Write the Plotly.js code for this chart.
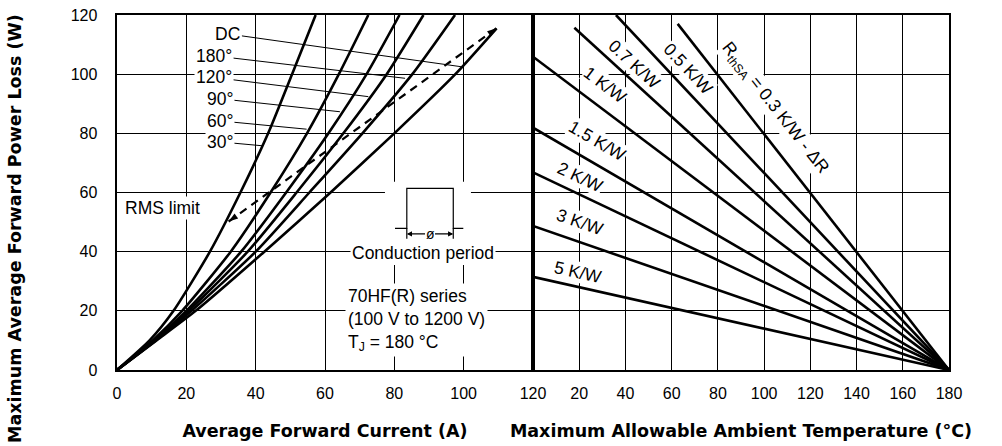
<!DOCTYPE html>
<html>
<head>
<meta charset="utf-8">
<script src="https://cdn.plot.ly/plotly-3.0.1.min.js"></script>
<style>html,body{margin:0;padding:0;background:#fff}#chart{width:1002px;height:446px}</style>
</head>
<body>
<div id="chart"></div>
<script>
// ---------- Left panel: power loss (W) vs average forward current (A) ----------
const powerLevels = [0, 10, 20, 40, 60, 80, 100, 120];
const current30  = [0, 9.4, 16.3, 26.8, 35.6, 43.6, 50.5, 57.3];
const current60  = [0, 10.3, 18.8, 32.8, 44.3, 54.8, 64.0, 72.5];
const current90  = [0, 10.7, 20.0, 35.8, 48.8, 61.0, 72.0, 81.5];
const current120 = [0, 11.0, 20.7, 37.7, 51.8, 65.3, 77.8, 88.4];
const current180 = [0, 11.2, 21.5, 40.0, 55.5, 70.8, 85.2, 97.5];
const powerDC    = [0, 10, 20, 40, 60, 80, 100, 115.5];
const currentDC  = [0, 11.4, 22.7, 42.5, 61.6, 80.0, 97.6, 109.5];
const rmsCurrent = [32.2, 109.5];
const rmsPower   = [50.2, 115.5];
const angleLabels = ['30°', '60°', '90°', '120°', '180°', 'DC'];

// ---------- Right panel: power loss (W) vs ambient temperature (°C) ----------
const rthLabels = ['R<sub>thSA</sub> = 0.3 K/W - ΔR', '0.5 K/W', '0.7 K/W', '1 K/W', '1.5 K/W', '2 K/W', '3 K/W', '5 K/W'];
const rthStartTemp  = [62.6, 35.9, 17.9, 0, 0, 0, 0, 0];
const rthStartPower = [117, 120, 115.7, 105.9, 81.9, 66.8, 48.7, 31.5];
const rthEndTemp = 180;
const rthEndPower = 0;

// ---------- Ticks ----------
const currentTicks = [0, 20, 40, 60, 80, 100, 120];
const tempTicks = [20, 40, 60, 80, 100, 120, 140, 160, 180];
const powerTicks = [0, 20, 40, 60, 80, 100, 120];

const BLACK = '#000';
const curveStyle = {color: BLACK, width: 2.6, shape: 'spline', smoothing: 0.6};

const leftSeries = [current30, current60, current90, current120, current180];
const traces = [];
leftSeries.forEach((cur, i) => {
  traces.push({x: cur, y: powerLevels, xaxis: 'x', yaxis: 'y', mode: 'lines',
    name: angleLabels[i], line: curveStyle, hoverinfo: 'skip'});
});
traces.push({x: currentDC, y: powerDC, xaxis: 'x', yaxis: 'y', mode: 'lines',
  name: angleLabels[5], line: curveStyle, hoverinfo: 'skip'});
// RMS limit: dashed line with arrowheads at both ends
traces.push({x: rmsCurrent, y: rmsPower, xaxis: 'x', yaxis: 'y', mode: 'lines+markers',
  name: 'RMS limit', line: {color: BLACK, width: 2.2, dash: '8px,6px'},
  marker: {symbol: 'arrow', size: 10, color: BLACK, angleref: 'up', angle: [234.2, 54.2],
    line: {width: 0}},
  hoverinfo: 'skip'});

rthLabels.forEach((lab, i) => {
  traces.push({x: [rthStartTemp[i], rthEndTemp], y: [rthStartPower[i], rthEndPower],
    xaxis: 'x2', yaxis: 'y2', mode: 'lines', name: lab,
    line: {color: BLACK, width: 2.6}, hoverinfo: 'skip'});
});

const labelFont = {family: 'Liberation Sans, Arial, sans-serif', size: 17.5, color: BLACK};
const titleFont = {family: 'DejaVu Sans, sans-serif', size: 17.5, color: BLACK};
const tickFont = {family: 'Liberation Sans, Arial, sans-serif', size: 16, color: BLACK};

function leader(text, hx, hy, tx, ty) {
  return {xref: 'x', yref: 'y', x: hx, y: hy, axref: 'x', ayref: 'y', ax: tx, ay: ty,
    text: text, showarrow: true, arrowhead: 0, arrowwidth: 1, arrowcolor: BLACK,
    standoff: 0, startstandoff: 0, bgcolor: '#fff', borderpad: 1, font: labelFont};
}
function rotLabel(text, x, y, ang) {
  return {xref: 'x2', yref: 'y2', x: x, y: y, text: text, showarrow: false,
    textangle: ang, bgcolor: '#fff', borderpad: 0, font: labelFont};
}
function dimArrow(hx, hy, tx, ty) {
  return {xref: 'x', yref: 'y', x: hx, y: hy, axref: 'x', ayref: 'y', ax: tx, ay: ty,
    text: 'ø', showarrow: true, arrowhead: 2, arrowsize: 0.8, arrowwidth: 1.3,
    arrowcolor: BLACK, standoff: 0, startstandoff: 0, bgcolor: '#fff', borderpad: 0,
    font: {family: 'Liberation Sans, Arial, sans-serif', size: 14, color: BLACK}};
}

const annotations = [
  leader(angleLabels[5], 99.4, 102.5, 32.0, 113.6),
  leader(angleLabels[4], 83.1, 98.6, 28.0, 106.2),
  leader(angleLabels[3], 72.5, 92.4, 28.0, 98.9),
  leader(angleLabels[2], 64.3, 87.3, 29.7, 91.7),
  leader(angleLabels[1], 54.7, 81.4, 29.7, 84.2),
  leader(angleLabels[0], 41.9, 75.8, 29.7, 77.1),
  {xref: 'x', yref: 'y', x: 1.7, y: 54.8, xanchor: 'left', text: 'RMS limit',
    showarrow: false, bgcolor: '#fff', borderpad: 1, font: labelFont},
  {xref: 'x', yref: 'y', x: 88.4, y: 39.7, text: 'Conduction period',
    showarrow: false, bgcolor: '#fff', borderpad: 1, font: labelFont},
  {xref: 'x', yref: 'y', x: 65.8, y: 16.9, xanchor: 'left', align: 'left',
    text: '70HF(R) series<br>(100 V to 1200 V)<br>T<sub>J</sub> = 180 °C',
    showarrow: false, bgcolor: '#fff', borderpad: 2, font: labelFont},
  dimArrow(83.6, 46.0, 90.3, 46.0),
  dimArrow(97.0, 46.0, 90.3, 46.0),
  rotLabel(rthLabels[0], 104.7, 88.4, 51.9),
  rotLabel(rthLabels[1], 67.3, 101.8, 46.8),
  rotLabel(rthLabels[2], 43.7, 103.4, 42.4),
  rotLabel(rthLabels[3], 31.2, 96.3, 37.0),
  rotLabel(rthLabels[4], 27.9, 77.4, 30.2),
  rotLabel(rthLabels[5], 20.3, 65.1, 25.4),
  rotLabel(rthLabels[6], 20.3, 50.1, 19.1),
  rotLabel(rthLabels[7], 19.3, 33.2, 12.6),
  // y-axis title (placed as text so it can sit lower than the plot centre, as in the reference)
  {xref: 'paper', yref: 'paper', x: -0.1226, y: 0.4, xanchor: 'center', yanchor: 'middle',
    text: '<b>Maximum Average Forward Power Loss (W)</b>', textangle: -90,
    showarrow: false, font: titleFont}
];

const shapes = [
  {type: 'rect', xref: 'x', yref: 'y', x0: 77.3, x1: 102.1, y0: 35.5, y1: 63.6,
    fillcolor: '#fff', line: {width: 0}, layer: 'between'},
  {type: 'path', xref: 'x', yref: 'y',
    path: 'M80.2,47.9 L83.6,47.9 L83.6,61.4 L97,61.4 L97,47.9 L99.9,47.9',
    line: {color: BLACK, width: 1.2}},
  {type: 'line', xref: 'x', yref: 'y', x0: 83.6, x1: 83.6, y0: 47.9, y1: 44.4,
    line: {color: BLACK, width: 1.2}},
  {type: 'line', xref: 'x', yref: 'y', x0: 97.0, x1: 97.0, y0: 47.9, y1: 44.4,
    line: {color: BLACK, width: 1.2}}
];

const axisBase = {
  showgrid: true, gridcolor: BLACK, gridwidth: 1, zeroline: false,
  showline: true, linecolor: BLACK, linewidth: 2.4, mirror: true,
  ticks: '', tickfont: tickFont, fixedrange: true
};

const layout = {
  width: 1002, height: 446,
  margin: {l: 117, r: 53, t: 15, b: 76},
  paper_bgcolor: '#fff', plot_bgcolor: '#fff',
  showlegend: false,
  font: {family: 'Liberation Sans, Arial, sans-serif', color: BLACK},
  xaxis: Object.assign({}, axisBase, {
    domain: [0, 0.5], range: [0, 120], anchor: 'y',
    tickmode: 'array', tickvals: currentTicks, ticklabelstandoff: 7,
    title: {text: '<b>Average Forward Current (A)</b>', font: titleFont, standoff: 24}
  }),
  xaxis2: Object.assign({}, axisBase, {
    domain: [0.5, 1], range: [0, 180], anchor: 'y2',
    tickmode: 'array', tickvals: tempTicks, ticklabelstandoff: 7,
    title: {text: '<b>Maximum Allowable Ambient Temperature (°C)</b>', font: titleFont, standoff: 24}
  }),
  yaxis: Object.assign({}, axisBase, {
    domain: [0, 1], range: [0, 120], anchor: 'x',
    tickmode: 'array', tickvals: powerTicks, ticklabelstandoff: 14
  }),
  yaxis2: Object.assign({}, axisBase, {
    domain: [0, 1], range: [0, 120], anchor: 'x2', matches: 'y',
    tickmode: 'array', tickvals: powerTicks, showticklabels: false
  }),
  annotations: annotations,
  shapes: shapes
};

Plotly.newPlot('chart', traces, layout, {displayModeBar: false, staticPlot: true});
</script>
</body>
</html>
